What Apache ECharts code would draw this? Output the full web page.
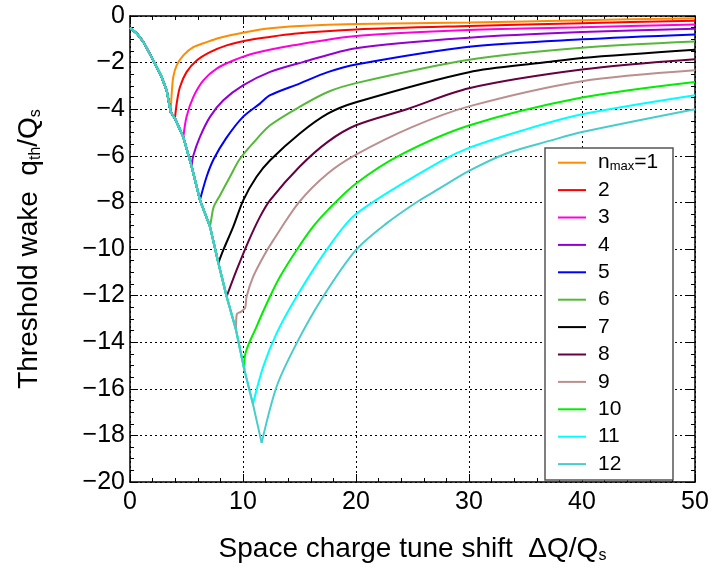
<!DOCTYPE html>
<html><head><meta charset="utf-8">
<script src="https://cdn.jsdelivr.net/npm/echarts@6/dist/echarts.min.js"></script>
<style>html,body{margin:0;padding:0;background:#fff}#c{width:712px;height:569px}</style>
</head><body><div id="c"></div>
<script>
// ---- data ----
const seriesNames = ['n_max=1','2','3','4','5','6','7','8','9','10','11','12'];
// common descending branch (shared by all curves)
const envelopeX = [0, 0.6, 1.2, 2.0, 2.8, 3.25, 3.6, 3.98, 4.72, 5.45, 6.19, 7.08, 7.82, 8.55, 9.38, 10.12, 10.88, 11.65];
const envelopeY = [-0.5, -0.75, -1.12, -1.85, -2.62, -3.2, -4.12, -4.4, -5.2, -6.45, -7.9, -9.04, -10.6, -12.04, -13.47, -15.18, -16.65, -18.32];
// rising branches, starting at each curve's minimum
const branch1 = [[3.6,-4.12],[3.69,-3.33],[3.83,-2.62],[4.13,-2.12],[4.72,-1.69],[5.6,-1.34],[6.78,-1.12],[7.96,-0.93],[10,-0.72],[12,-0.55],[15,-0.43],[20,-0.34],[30,-0.28],[40,-0.18],[50,-0.1]];
const branch2 = [[3.98,-4.4],[4.13,-3.76],[4.42,-3.05],[5,-2.41],[5.9,-1.91],[7.08,-1.55],[8.55,-1.26],[10.3,-1.05],[12,-0.92],[14.5,-0.76],[20,-0.58],[30,-0.43],[40,-0.31],[50,-0.2]];
const branch3 = [[4.72,-5.2],[5,-4.33],[5.6,-3.48],[6.49,-2.76],[7.67,-2.26],[9.14,-1.91],[11,-1.6],[14.45,-1.26],[20,-0.86],[30,-0.6],[40,-0.48],[50,-0.37]];
const branch4 = [[5.45,-6.45],[5.6,-6.0],[6.19,-5.19],[7.08,-4.33],[8.26,-3.62],[10,-2.98],[12.4,-2.4],[15.3,-1.98],[20,-1.38],[30,-0.93],[40,-0.69],[50,-0.55]];
const branch5 = [[6.19,-7.9],[6.78,-6.9],[7.4,-6.15],[8.5,-5.25],[10,-4.33],[11.5,-3.76],[12.4,-3.4],[15,-2.9],[17.5,-2.41],[20,-2.08],[30,-1.32],[40,-1.0],[50,-0.79]];
const branch6 = [[7.08,-9.04],[7.2,-8.7],[7.4,-8.2],[7.96,-7.7],[8.85,-6.9],[9.7,-6.15],[10.9,-5.45],[12.4,-4.69],[15,-3.9],[17.5,-3.26],[20,-2.88],[30,-1.88],[40,-1.36],[50,-1.09]];
const branch7 = [[7.82,-10.6],[8.26,-10.04],[9.14,-9.04],[10.03,-7.9],[11.2,-6.9],[12.4,-6.19],[15,-5.05],[17.5,-4.19],[20,-3.7],[30,-2.41],[36.6,-2.0],[40,-1.8],[50,-1.45]];
const branch8 = [[8.55,-12.04],[9.44,-10.9],[10.5,-9.65],[11.5,-8.62],[12.4,-7.9],[15,-6.47],[17.5,-5.4],[20,-4.69],[24.5,-4.0],[30,-3.1],[40,-2.3],[50,-1.86]];
const branch9 = [[9.38,-13.47],[9.45,-12.8],[9.8,-12.7],[10.18,-12.54],[10.32,-12.04],[10.9,-11.19],[11.8,-10.33],[12.7,-9.61],[15,-7.97],[17.5,-6.76],[20,-5.95],[25,-4.76],[30,-3.88],[40,-2.8],[50,-2.33]];
const branch10 = [[10.12,-15.18],[10.15,-14.65],[11.2,-13.33],[12.39,-12.04],[13.27,-11.19],[14.75,-10.04],[16.2,-9.04],[17.5,-8.33],[20,-7.19],[23.9,-5.97],[30,-4.7],[40,-3.5],[50,-2.83]];
const branch11 = [[10.88,-16.65],[11.8,-15.04],[12.98,-13.61],[14.75,-12.04],[17.4,-10.04],[20,-8.5],[27.4,-6.26],[30,-5.66],[34.8,-4.9],[40,-4.22],[50,-3.4]];
const branch12 = [[11.65,-18.32],[12.98,-15.9],[14.75,-14.04],[17.1,-12.04],[20,-10.04],[22.7,-8.9],[25.5,-7.95],[27.4,-7.4],[30,-6.65],[33.3,-5.9],[37.2,-5.35],[40,-4.98],[50,-4.0]];
const xRange = [0, 50, 10];
const yRange = [-20, 0, 2];

// ---- styling ----
const FONT = '"Liberation Sans", Arial, sans-serif';
const colors = ['#ff8c00','#ff0000','#ff00dd','#9400d3','#0000ff','#56b83a','#000000','#66003f','#bc8f8f','#00ee00','#00ffff','#48cccc'];
const branches = [branch1,branch2,branch3,branch4,branch5,branch6,branch7,branch8,branch9,branch10,branch11,branch12];

const series = [];
branches.forEach((b, i) => {
  const minX = b[0][0];
  const env = envelopeX.map((x, k) => [x, envelopeY[k]]).filter(p => p[0] < minX);
  env.push(b[0]);
  const common = {type:'line', name: seriesNames[i], symbol:'none', showSymbol:false, silent:true, animation:false,
    lineStyle:{color: colors[i], width: 2}, itemStyle:{color: colors[i]}, z: 2, clip: true};
  series.push(Object.assign({}, common, {data: env, smooth: false}));
  series.push(Object.assign({}, common, {data: b, smooth: 0.3}));
});

const axisCommon = {
  axisLine:{show:true, onZero:false, lineStyle:{color:'#000', width:1.5}},
  axisTick:{show:true, inside:true, length:8, lineStyle:{color:'#000', width:1}},
};
const sub = {fontSize: 16, fontFamily: FONT, color:'#000', verticalAlign:'bottom', padding:[13,0,0,0]};
const minusFmt = v => (v < 0 ? '\u2212' + (-v) : String(v));

const option = {
  backgroundColor:'#fff',
  animation:false,
  grid:{left:130, right:17, top:16, bottom:86},
  xAxis:[
    Object.assign({type:'value', min:xRange[0], max:xRange[1], interval:xRange[2], position:'bottom',
      name:'Space charge tune shift  \u0394Q/Q{s|s}', nameLocation:'middle', nameGap:53,
      nameTextStyle:{fontSize:28, fontFamily:FONT, color:'#000', rich:{s: sub}},
      axisLabel:{fontSize:25, fontFamily:FONT, color:'#000', margin:8},
      splitLine:{show:true, lineStyle:{color:'#000', type:[2,3], width:1}}}, axisCommon,
      {minorTick:{show:true, splitNumber:5, length:4, lineStyle:{color:'#000'}}}),
    Object.assign({type:'value', min:xRange[0], max:xRange[1], interval:xRange[2], position:'top',
      axisLabel:{show:false}, splitLine:{show:false}}, axisCommon,
      {minorTick:{show:true, splitNumber:5, length:4, lineStyle:{color:'#000'}}})
  ],
  yAxis:[
    Object.assign({type:'value', min:yRange[0], max:yRange[1], interval:yRange[2], position:'left',
      name:'Threshold wake  q{s|th}/Q{s|s}', nameLocation:'middle', nameGap:86, nameRotate:90,
      nameTextStyle:{fontSize:28, fontFamily:FONT, color:'#000', rich:{s: sub}},
      axisLabel:{fontSize:25, fontFamily:FONT, color:'#000', margin:5, formatter: minusFmt},
      splitLine:{show:true, lineStyle:{color:'#000', type:[2,3], width:1}}}, axisCommon,
      {minorTick:{show:true, splitNumber:4, length:4, lineStyle:{color:'#000'}}}),
    Object.assign({type:'value', min:yRange[0], max:yRange[1], interval:yRange[2], position:'right',
      axisLabel:{show:false}, splitLine:{show:false}}, axisCommon,
      {minorTick:{show:true, splitNumber:4, length:4, lineStyle:{color:'#000'}}})
  ],
  graphic:[{type:'rect', z:3, shape:{x:545, y:148, width:128, height:332},
    style:{fill:'#fff', stroke:'#555', lineWidth:1.5}}],
  legend:{
    data: seriesNames, orient:'vertical', left:557, top:151.7, padding:0,
    itemWidth:28, itemHeight:20, itemGap:6.4, selectedMode:false, z:5,
    itemStyle:{opacity:0},
    textStyle:{fontSize:21, fontFamily:FONT, color:'#000', lineHeight:20, padding:[0,0,0,7],
      rich:{a:{fontSize:21, fontFamily:FONT, color:'#000', lineHeight:20},
            s:{fontSize:13, fontFamily:FONT, color:'#000', verticalAlign:'bottom', lineHeight:20, padding:[8,0,0,0]}}},
    formatter: name => name === 'n_max=1' ? '{a|n}{s|max}{a|=1}' : '{a|' + name + '}'
  },
  series: series
};
const chart = echarts.init(document.getElementById('c'), null, {renderer:'canvas'});
chart.setOption(option);
</script>
</body></html>
